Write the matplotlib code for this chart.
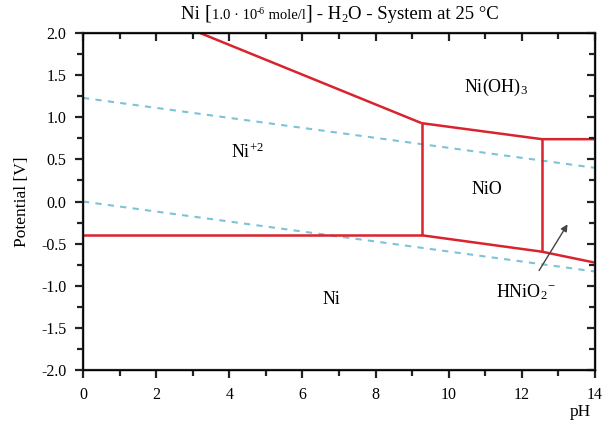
import numpy as np
import matplotlib.pyplot as plt

plt.rcParams['font.family'] = ['Liberation Serif', 'DejaVu Serif']
plt.rcParams['mathtext.fontset'] = 'custom'
plt.rcParams['mathtext.rm'] = 'Liberation Serif'
plt.rcParams['mathtext.it'] = 'Liberation Serif:italic'

# boundaries (pH, E) of the stability fields
ni_ni2_ph = [0.0, 9.26]
ni_ni2_e = [-0.40, -0.40]
ni2_nio_ph = [9.26, 9.26]
ni2_nio_e = [-0.40, 0.93]
ni2_nioh3_ph = [3.2, 9.26]
ni2_nioh3_e = [2.0, 0.93]
nio_nioh3_ph = [9.26, 12.55, 14.0]
nio_nioh3_e = [0.93, 0.74, 0.74]
nio_hnio2_ph = [12.55, 12.55]
nio_hnio2_e = [0.74, -0.595]
ni_nio_ph = [9.26, 12.55, 14.0]
ni_nio_e = [-0.40, -0.595, -0.725]

# water stability lines
water_ph = [0.0, 14.0]
o2_e = [1.23, 0.40]
h2_e = [0.0, -0.83]

red = '#d9232d'
blue = '#7cc3d9'
dark = '#222222'

fig = plt.figure(figsize=(6.13, 4.38), dpi=100)
ax = fig.add_axes([0.1354, 0.155, 0.8352, 0.7697])

ax.plot(water_ph, o2_e, ls=(0, (3, 3)), color=blue, lw=1.5)
ax.plot(water_ph, h2_e, ls=(0, (3, 3)), color=blue, lw=1.5)

for xs, ys in [(ni_ni2_ph, ni_ni2_e), (ni2_nio_ph, ni2_nio_e),
               (ni2_nioh3_ph, ni2_nioh3_e), (nio_nioh3_ph, nio_nioh3_e),
               (nio_hnio2_ph, nio_hnio2_e), (ni_nio_ph, ni_nio_e)]:
    ax.plot(xs, ys, color=red, lw=1.8, solid_capstyle='butt')

fs = 13
ax.text(11.3, 1.35, 'Ni(OH)$_3$', fontsize=fs, ha='center', va='center')
ax.text(4.5, 0.58, 'Ni$^{+2}$', fontsize=fs, ha='center', va='center')
ax.text(11.05, 0.14, 'NiO', fontsize=fs, ha='center', va='center')
ax.text(6.8, -1.16, 'Ni', fontsize=fs, ha='center', va='center')
ax.annotate('HNiO$_2$$^{-}$', xy=(13.25, -0.27), xytext=(12.1, -1.08),
            fontsize=fs, ha='center', va='center',
            arrowprops=dict(arrowstyle='-|>', color='#444444', lw=1,
                            shrinkA=8, shrinkB=0, mutation_scale=10))

ax.set_xlim(0, 14)
ax.set_ylim(-2, 2)
ax.set_xticks(np.arange(0, 15, 2))
ax.set_xticks(np.arange(0, 15, 1), minor=True)
ax.set_yticks(np.arange(-2, 2.01, 0.5))
ax.set_yticks(np.arange(-2, 2.01, 0.25), minor=True)
ax.set_yticklabels([f'{v:.1f}' for v in np.arange(-2, 2.01, 0.5)])
for s in ax.spines.values():
    s.set_linewidth(1.6)
    s.set_color(dark)
ax.tick_params(which='both', direction='out', labelsize=11.5, width=1.6,
               color=dark)
ax.tick_params(which='major', length=6)
ax.tick_params(which='minor', length=4)
ax.tick_params(axis='both', which='major', pad=6)

axr = ax.twinx()
axr.set_ylim(-2, 2)
axr.set_yticks(np.arange(-2, 2.01, 0.5))
axr.set_yticks(np.arange(-2, 2.01, 0.25), minor=True)
axr.tick_params(which='both', direction='in', labelright=False, width=1.6,
                color=dark)
axr.tick_params(which='major', length=6)
axr.tick_params(which='minor', length=4)
axt = ax.twiny()
axt.set_xlim(0, 14)
axt.set_xticks(np.arange(0, 15, 2))
axt.set_xticks(np.arange(0, 15, 1), minor=True)
axt.tick_params(which='both', direction='in', labeltop=False, width=1.6,
                color=dark)
axt.tick_params(which='major', length=6)
axt.tick_params(which='minor', length=4)

ax.set_ylabel('Potential [V]', fontsize=12.5, labelpad=8)
fig.text(0.946, 0.06, 'pH', fontsize=12.5, ha='center', va='center')

# title built from pieces of different sizes
pieces = [('Ni ', 13.5, 0), ('[', 14.5, 0), ('1.0 · 10', 10.5, 0), ('-6', 7, 5),
          (' mole/l', 10.5, 0), (']', 14.5, 0), (' - H', 13.5, 0), ('2', 9, -3),
          ('O - System at 25 °C', 13.5, 0)]
renderer = fig.canvas.get_renderer()
texts = []
x = 0.0
base_y = 0.957 * 438
for s, size, dy in pieces:
    t = fig.text(0, 0, s, fontsize=size, ha='left', va='baseline',
                 transform=None)
    w = t.get_window_extent(renderer).width
    texts.append((t, x, dy, w))
    x += w
start = 340 - x / 2
for t, off, dy, w in texts:
    t.set_position((start + off, base_y + dy))

fig.savefig('out.png', dpi=100)
